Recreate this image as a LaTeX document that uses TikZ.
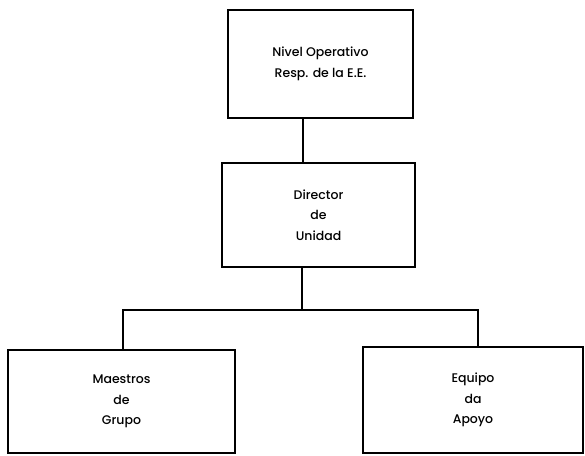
\documentclass[tikz,border=0pt]{standalone}
\usepackage{fontspec}
\setmainfont{Poppins Medium}
\begin{document}
\begin{tikzpicture}[x=1pt,y=-1pt,
  box/.style={draw=black, line width=2.4pt, rectangle, align=center, font=\fontsize{12.5}{20.5}\selectfont, inner sep=0pt},
  conn/.style={draw=black, line width=1.4pt}]
\useasboundingbox (0,0) rectangle (585,455);
\node[box, minimum width=185pt, minimum height=108pt] (top) at (320.5,64) {Nivel Operativo\\Resp. de la E.E.};
\node[box, minimum width=193pt, minimum height=104pt] (mid) at (318.5,215) {Director\\de\\Unidad};
\node[box, minimum width=227pt, minimum height=103pt] (left) at (121.5,401.5) {Maestros\\de\\Grupo};
\node[box, minimum width=220pt, minimum height=106pt] (right) at (473,400) {Equipo\\da\\Apoyo};
\coordinate (c1) at (303,0);
\coordinate (c2) at (302,310);
\coordinate (cl) at (123,310);
\coordinate (cr) at (478,310);
\draw[conn] (top.south -| c1) -- (mid.north -| c1);
\draw[conn] (mid.south -| c2) -- (c2);
\draw[conn] (left.north -| cl) -- (cl) -- (cr) -- (right.north -| cr);
\end{tikzpicture}
\end{document}
